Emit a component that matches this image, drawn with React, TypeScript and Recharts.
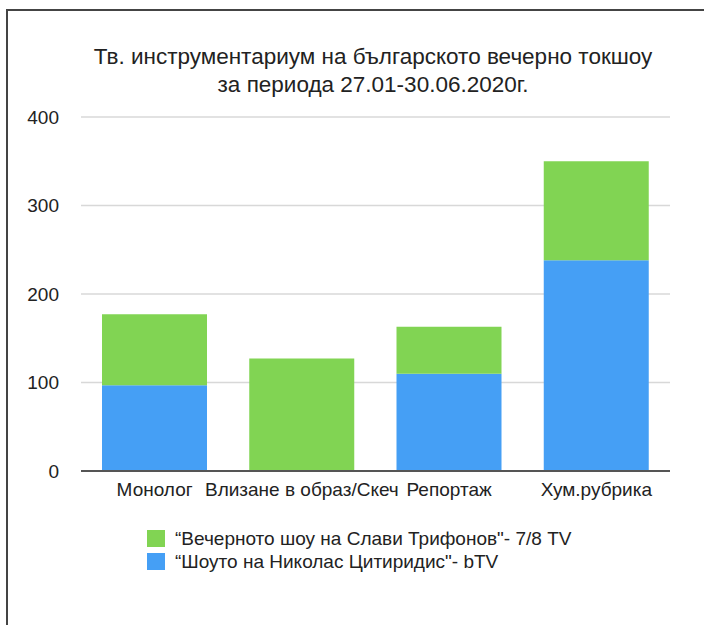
import * as React from "react";
import { Bar, BarChart, CartesianGrid, Legend, XAxis, YAxis } from "recharts";

// Рубрики (категории по оста X)
const categories = ["Монолог", "Влизане в образ/Скеч", "Репортаж", "Хум.рубрика"];

// Брой появявания по предавания
const nikolasValues = [97, 0, 110, 238];
const slaviValues = [80, 127, 53, 112];

const yTicks = [0, 100, 200, 300, 400];

const slaviName = "“Вечерното шоу на Слави Трифонов\"- 7/8 TV";
const nikolasName = "“Шоуто на Николас Цитиридис\"- bTV";

const titleLines = [
    "Тв. инструментариум на българското вечерно токшоу",
    "за периода 27.01-30.06.2020г.",
];

const data = categories.map((name, i) => ({
    name,
    nikolas: nikolasValues[i],
    slavi: slaviValues[i],
}));

const FONT = '"Liberation Sans", Arial, Helvetica, sans-serif';

// легендата: първо зеленото (горния слой), после синьото
const renderLegend = (props: any) => {
    const items = [...(props.payload || [])].sort(
        (a: any, b: any) => (a.dataKey === "slavi" ? -1 : 0) - (b.dataKey === "slavi" ? -1 : 0)
    );
    return (
        <div style={{ fontFamily: FONT, fontSize: 19, color: "#222" }}>
            {items.map((item: any) => (
                <div
                    key={item.value}
                    style={{ display: "flex", alignItems: "center", height: 23 }}
                >
                    <span
                        style={{
                            display: "inline-block",
                            width: 18,
                            height: 17,
                            background: item.color,
                            marginRight: 10,
                        }}
                    />
                    <span style={{ whiteSpace: "nowrap" }}>{item.value}</span>
                </div>
            ))}
        </div>
    );
};

export default function App() {
    return (
        <div
            style={{
                position: "absolute",
                left: 0,
                top: 0,
                width: 704,
                height: 625,
                background: "#fff",
                overflow: "hidden",
            }}
        >
            <div
                style={{
                    position: "absolute",
                    left: 73,
                    width: 600,
                    top: 43,
                    textAlign: "center",
                    fontFamily: FONT,
                    fontSize: 22.5,
                    lineHeight: "28px",
                    color: "#222",
                    whiteSpace: "nowrap",
                }}
            >
                {titleLines.map((t) => (
                    <div key={t}>{t}</div>
                ))}
            </div>
            <div style={{ position: "absolute", left: 0, top: 0 }}>
                <BarChart
                    width={704}
                    height={625}
                    data={data}
                    margin={{ top: 117, right: 34, left: 0, bottom: 124 }}
                >
                    <CartesianGrid vertical={false} stroke="#d8d8d8" strokeWidth={1.5} />
                    <XAxis
                        dataKey="name"
                        height={30}
                        tickLine={false}
                        tickSize={0}
                        tickMargin={12}
                        axisLine={{ stroke: "#555", strokeWidth: 2 }}
                        tick={{ fontFamily: FONT, fontSize: 19, fill: "#222" }}
                        interval={0}
                    />
                    <YAxis
                        width={81}
                        domain={[0, 400]}
                        ticks={yTicks}
                        axisLine={false}
                        tickLine={false}
                        tickSize={0}
                        tickMargin={22}
                        tick={{ fontFamily: FONT, fontSize: 19, fill: "#222" }}
                    />
                    <Legend
                        layout="vertical"
                        align="center"
                        verticalAlign="middle"
                        content={renderLegend}
                        wrapperStyle={{ top: 527, left: 147, width: "auto" }}
                    />
                    <Bar
                        dataKey="nikolas"
                        name={nikolasName}
                        stackId="a"
                        fill="#459FF5"
                        barSize={105}
                        isAnimationActive={false}
                    />
                    <Bar
                        dataKey="slavi"
                        name={slaviName}
                        stackId="a"
                        fill="#81D453"
                        barSize={105}
                        isAnimationActive={false}
                    />
                </BarChart>
            </div>
            {/* рамка: горна и лява линия */}
            <div
                style={{
                    position: "absolute",
                    left: 6,
                    top: 9,
                    width: 698,
                    height: 2,
                    background: "#444",
                }}
            />
            <div
                style={{
                    position: "absolute",
                    left: 6,
                    top: 9,
                    width: 2,
                    height: 616,
                    background: "#444",
                }}
            />
        </div>
    );
}
